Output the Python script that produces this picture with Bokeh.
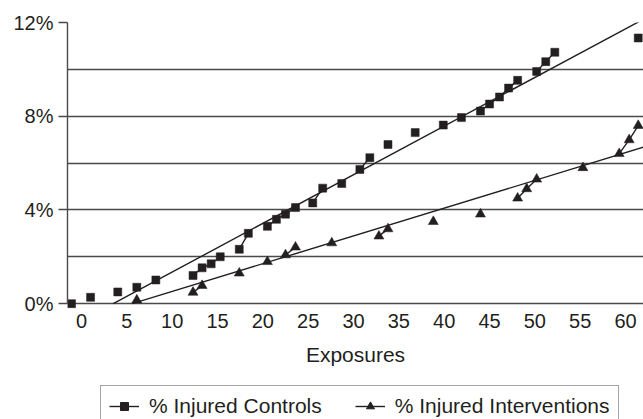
from bokeh.plotting import figure
from bokeh.layouts import column
from bokeh.models import Range1d, FixedTicker, Legend, LegendItem
from bokeh.embed import file_html
from bokeh.resources import INLINE

# ---- data ----
ctrl_x = [-1.1, 1.0, 4.0, 6.1, 8.2, 12.3, 13.3, 14.3, 15.3, 17.4, 18.4, 20.5, 21.5, 22.5, 23.6,
          25.5, 26.6, 28.7, 30.7, 31.8, 33.8, 36.8, 39.9, 41.9, 44.0, 45.0, 46.1, 47.1, 48.1,
          50.2, 51.2, 52.2, 61.4]
ctrl_y = [0.0, 0.27, 0.50, 0.70, 1.01, 1.20, 1.53, 1.70, 2.00, 2.32, 3.00, 3.30, 3.60, 3.82, 4.10,
          4.30, 4.93, 5.13, 5.73, 6.23, 6.79, 7.30, 7.62, 7.94, 8.22, 8.52, 8.82, 9.20, 9.53,
          9.91, 10.33, 10.73, 11.34]
int_x = [6.1, 12.3, 13.3, 17.4, 20.5, 22.5, 23.6, 27.6, 32.8, 33.8, 38.8, 44.0, 48.1, 49.1,
         50.2, 55.3, 59.3, 60.4, 61.4]
int_y = [0.15, 0.48, 0.77, 1.30, 1.79, 2.08, 2.41, 2.59, 2.88, 3.19, 3.50, 3.82, 4.50, 4.90,
         5.31, 5.80, 6.40, 6.99, 7.60]

# linear trend lines (slope, intercept)
ctrl_trend = (0.2076, -0.727)
int_trend = (0.1185, -0.664)

x_ticks = [0, 5, 10, 15, 20, 25, 30, 35, 40, 45, 50, 55, 60]
y_ticks = [0, 4, 8, 12]
y_tick_labels = ["0%", "4%", "8%", "12%"]
y_grid = [0, 2, 4, 6, 8, 10, 12]
series_names = ["% Injured Controls", "% Injured Interventions"]
x_title = "Exposures"

# ---- styling ----
FONT = "Liberation Sans"
INK = "#231f20"
GRID = "#4a4a4a"
X_START, X_END = -1.544, 61.98
Y_START, Y_END = -0.25, 12.0
MARKERS = [("square", 8), ("triangle", 10)]

p = figure(frame_width=576, frame_height=287, output_backend="svg", toolbar_location=None,
           x_range=Range1d(X_START, X_END), y_range=Range1d(Y_START, Y_END),
           min_border_left=67, min_border_right=0, min_border_top=22, min_border_bottom=70,
           background_fill_color="white", border_fill_color="white")
p.outline_line_color = None

# grid
p.xgrid.visible = False
p.ygrid.ticker = FixedTicker(ticks=y_grid)
p.ygrid.grid_line_color = GRID
p.ygrid.grid_line_width = 1.4

# y axis
p.yaxis.ticker = FixedTicker(ticks=y_ticks)
p.yaxis.major_label_overrides = {t: l for t, l in zip(y_ticks, y_tick_labels)}
p.yaxis.bounds = (0, 12)
p.yaxis.axis_line_color = GRID
p.yaxis.axis_line_width = 1.4
p.yaxis.major_tick_line_color = GRID
p.yaxis.major_tick_line_width = 1.4
p.yaxis.major_tick_out = 9
p.yaxis.major_tick_in = 0
p.yaxis.minor_tick_line_color = None
p.yaxis.major_label_standoff = 5
p.yaxis.major_label_text_font = FONT
p.yaxis.major_label_text_font_size = "20px"
p.yaxis.major_label_text_color = INK

# x axis
p.xaxis.ticker = FixedTicker(ticks=x_ticks)
p.xaxis.axis_line_color = None
p.xaxis.major_tick_line_color = None
p.xaxis.minor_tick_line_color = None
p.xaxis.major_tick_out = 0
p.xaxis.major_tick_in = 0
p.xaxis.major_label_standoff = 4
p.xaxis.major_label_text_font = FONT
p.xaxis.major_label_text_font_size = "20px"
p.xaxis.major_label_text_color = INK
p.xaxis.axis_label = x_title
p.xaxis.axis_label_text_font = FONT
p.xaxis.axis_label_text_font_size = "21px"
p.xaxis.axis_label_text_font_style = "normal"
p.xaxis.axis_label_text_color = INK
p.xaxis.axis_label_standoff = 12

# trend lines
for (m, b) in (ctrl_trend, int_trend):
    x0 = -b / m
    p.line([x0, X_END], [0, m * X_END + b], line_color=INK, line_width=1.4)


def connectors(xs, ys, max_gap=1.5):
    x0, y0, x1, y1 = [], [], [], []
    for i in range(len(xs) - 1):
        if xs[i + 1] - xs[i] < max_gap:
            x0.append(xs[i]); y0.append(ys[i]); x1.append(xs[i + 1]); y1.append(ys[i + 1])
    return x0, y0, x1, y1


series = ((ctrl_x, ctrl_y), (int_x, int_y))
for (xs, ys), (marker, size) in zip(series, MARKERS):
    a, b_, c, d = connectors(xs, ys)
    p.segment(a, b_, c, d, line_color=INK, line_width=1.4)
    p.scatter(xs, ys, marker=marker, size=size, fill_color=INK, line_color=INK, line_width=0.5)

# ---- legend strip below the chart (its ranges keep the series out of view) ----
lg = figure(frame_width=643, frame_height=40, output_backend="svg", toolbar_location=None,
            x_range=Range1d(1000, 1001), y_range=Range1d(1000, 1001),
            min_border_left=0, min_border_right=0, min_border_top=0, min_border_bottom=0,
            background_fill_color="white", border_fill_color="white")
lg.outline_line_color = None
lg.axis.visible = False
lg.grid.visible = False

items = []
for name, (xs, ys), (marker, size) in zip(series_names, series, MARKERS):
    a, b_, c, d = connectors(xs, ys)
    seg = lg.segment(a, b_, c, d, line_color=INK, line_width=1.4)
    sc = lg.scatter(xs, ys, marker=marker, size=size - 2, fill_color=INK, line_color=INK)
    items.append(LegendItem(label=name, renderers=[seg, sc]))

legend = Legend(items=items, orientation="horizontal", location=(100, -8),
                label_text_font=FONT, label_text_font_size="21px", label_text_color=INK,
                glyph_width=30, glyph_height=20, label_height=20, label_standoff=10, spacing=33,
                padding=8, margin=0, border_line_color=GRID, border_line_width=1.4,
                background_fill_color="white")
lg.add_layout(legend, "center")

layout = column(p, lg, spacing=0)
open("out.html", "w").write(file_html(layout, INLINE))
